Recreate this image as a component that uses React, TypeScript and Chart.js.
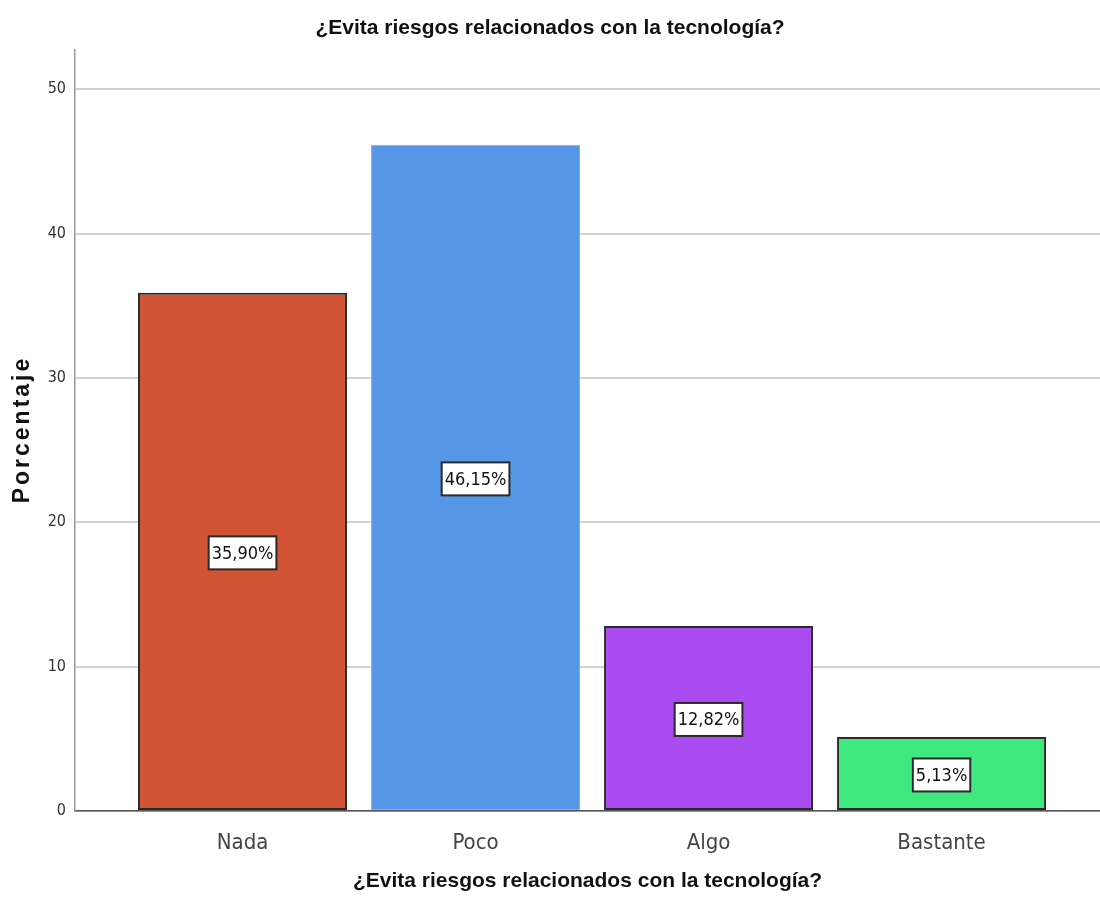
import React, { useEffect, useRef } from "react";
import { Chart, registerables } from "chart.js";

Chart.register(...registerables);

const categories = ["Nada", "Poco", "Algo", "Bastante"];
const percentages = [35.9, 46.15, 12.82, 5.13];
const barColors = ["#D15535", "#5596E6", "#AA4BF0", "#40E97D"];
const barBorderColors = ["#2a2a2a", "#7fb0ee", "#2a2a2a", "#2a2a2a"];
const barBorderWidths = [2, 1, 2, 2];
const yTicks = [0, 10, 20, 30, 40, 50];
const titleText = "¿Evita riesgos relacionados con la tecnología?";
const yTitleText = "Porcentaje";

const NARROW = "'Liberation Sans Narrow', 'DejaVu Sans Condensed', 'Liberation Sans', Arial, sans-serif";
const SANS = "'Liberation Sans', Arial, Helvetica, sans-serif";

const fmt = (v: number) => v.toFixed(2).replace(".", ",") + "%";

const labelPlugin = {
  id: "boxLabels",
  afterDatasetsDraw(chart: any) {
    const ctx = chart.ctx;
    const meta = chart.getDatasetMeta(0);
    const yScale = chart.scales.y;
    ctx.save();
    ctx.font = `18px ${NARROW}`;
    ctx.textAlign = "center";
    ctx.textBaseline = "middle";
    meta.data.forEach((el: any, i: number) => {
      const v = percentages[i];
      const cx = el.x;
      const cy = yScale.getPixelForValue(v / 2) + 1;
      const txt = fmt(v);
      const w = ctx.measureText(txt).width + 6;
      const h = 33;
      ctx.fillStyle = "#ffffff";
      ctx.fillRect(cx - w / 2, cy - h / 2, w, h);
      ctx.strokeStyle = "#2a2a2a";
      ctx.lineWidth = 2;
      ctx.strokeRect(cx - w / 2, cy - h / 2, w, h);
      ctx.fillStyle = "#111111";
      ctx.fillText(txt, cx, cy + 1);
    });
    ctx.restore();
  },
};

const yTitlePlugin = {
  id: "yTitle",
  afterDraw(chart: any) {
    const ctx = chart.ctx;
    ctx.save();
    ctx.translate(23, 431);
    ctx.rotate(-Math.PI / 2);
    ctx.font = `bold 23px ${SANS}`;
    try {
      (ctx as any).letterSpacing = "3px";
    } catch (e) {}
    ctx.fillStyle = "#111111";
    ctx.textAlign = "center";
    ctx.textBaseline = "middle";
    ctx.fillText(yTitleText, 1.5, 0);
    ctx.restore();
  },
};

export default function App() {
  const ref = useRef<HTMLCanvasElement>(null);
  useEffect(() => {
    if (!ref.current) return;
    const chart = new Chart(ref.current, {
      type: "bar",
      data: {
        datasets: [
          {
            data: percentages.map((v, i) => ({ x: i, y: v })),
            backgroundColor: barColors,
            borderColor: barBorderColors,
            borderWidth: barBorderWidths,
            borderSkipped: false,
            barPercentage: 0.897,
            categoryPercentage: 1,
          },
        ],
      },
      options: {
        responsive: false,
        animation: false,
        layout: { padding: 0 },
        plugins: {
          legend: { display: false },
          tooltip: { enabled: false },
          title: {
            display: true,
            text: titleText,
            color: "#111111",
            font: { family: SANS, size: 21, weight: "bold" },
            padding: { top: 16, bottom: 9 },
          },
        },
        scales: {
          x: {
            type: "linear",
            offset: false,
            min: -0.719,
            max: 3.68,
            afterBuildTicks: (scale: any) => {
              scale.ticks = categories.map((_, i) => ({ value: i }));
            },
            afterFit: (scale: any) => {
              scale.height = 111;
            },
            ticks: {
              callback: (v: any) => categories[v] ?? "",
              color: "#444444",
              font: { family: NARROW, size: 22 },
              padding: 19,
              maxRotation: 0,
              autoSkip: false,
            },
            grid: { display: false, drawTicks: false, offset: false },
            border: { display: true, color: "#555555", width: 1.5 },
            title: {
              display: true,
              text: titleText,
              color: "#111111",
              font: { family: SANS, size: 21, weight: "bold" },
              padding: { top: 0, bottom: 28 },
            },
          },
          y: {
            min: 0,
            max: 52.7,
            afterBuildTicks: (scale: any) => {
              scale.ticks = yTicks.map((v) => ({ value: v }));
            },
            afterFit: (scale: any) => {
              scale.width = 75;
            },
            ticks: {
              color: "#333333",
              font: { family: NARROW, size: 16 },
              padding: 9,
            },
            grid: { color: "#d2d2d2", lineWidth: 2, drawTicks: false },
            border: { display: true, color: "#9a9a9a", width: 1.5 },
          },
        },
      },
      plugins: [labelPlugin, yTitlePlugin],
    } as any);
    return () => chart.destroy();
  }, []);
  return (
    <div style={{ position: "absolute", left: 0, top: 0, width: 1100, height: 922, background: "#fff" }}>
      <canvas ref={ref} width={1100} height={922} style={{ display: "block" }} />
    </div>
  );
}
